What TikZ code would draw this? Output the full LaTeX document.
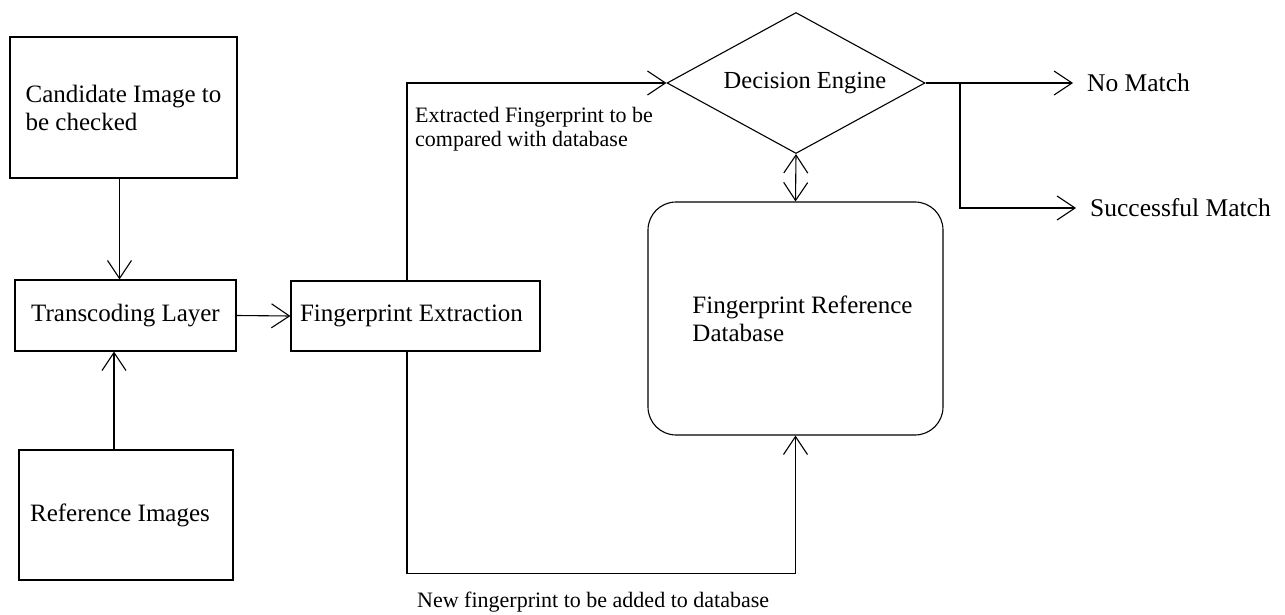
\documentclass[tikz,border=0pt]{standalone}
\usepackage{fontspec}
\setmainfont{Liberation Serif}
\usetikzlibrary{positioning,arrows.meta,shapes.geometric}

\begin{document}
\begin{tikzpicture}[
  x=1pt,
  y=-1pt,
  plainbox/.style={
    rectangle,
    draw=black,
    line width=1.1pt,
    inner sep=0pt,
    align=left,
    font=\fontsize{25}{28}\selectfont
  },
  decisionbox/.style={
    diamond,
    draw=black,
    line width=1.1pt,
    inner sep=0pt,
    aspect=1.83,
    minimum width=258pt,
    minimum height=141pt,
    font=\fontsize{24.5}{28}\selectfont
  },
  storebox/.style={
    plainbox,
    rounded corners=28pt
  },
  note/.style={
    inner sep=0pt,
    align=left,
    font=\fontsize{22}{24.5}\selectfont
  },
  outcome/.style={
    anchor=west,
    inner xsep=14pt,
    inner ysep=0pt,
    font=\fontsize{25.5}{28}\selectfont
  },
  flow/.style={
    line width=1.1pt,
    -{Straight Barb[length=18pt,width=24pt]}
  },
  bothflow/.style={
    line width=1.1pt,
    {Straight Barb[length=18pt,width=24pt]}-{Straight Barb[length=18pt,width=24pt]}
  }]
  \useasboundingbox (0,0) rectangle (1285,615);

  \node[plainbox, minimum width=227pt, minimum height=141pt] (cand) at (123.5,107.5) {Candidate Image to\\be checked};
  \node[plainbox, minimum width=221pt, minimum height=71pt] (trans) at (125.5,315.5) {Transcoding Layer};
  \node[plainbox, minimum width=214pt, minimum height=130pt] (refimg) at (126,515) {\hspace*{-12pt}Reference Images};
  \node[plainbox, minimum width=249pt, minimum height=70pt] (extract) at (415.5,316) {Fingerprint Extraction\hspace*{8pt}};
  \node[decisionbox] (decide) at (796,83) {\hspace*{18pt}Decision Engine};
  \node[storebox, minimum width=295pt, minimum height=233pt] (refdb) at (795.5,318.5) {\hspace*{14pt}Fingerprint Reference\\\hspace*{14pt}Database};

  \node[outcome] (nomatch) at (1073,83) {No Match};
  \node[outcome] (success) at (1076,208) {Successful Match};

  \node[note, anchor=west] (cmplabel) at (415,129) {Extracted Fingerprint to be\\compared with database};
  \node[note, anchor=west] (addlabel) at (417,602) {New fingerprint to be added to database};

  \coordinate (split) at (960,83);

  \draw[flow] ([xshift=-4pt]cand.south) -- ([xshift=-4pt]cand.south |- trans.north);
  \draw[flow] ([xshift=-12pt]refimg.north) -- ([xshift=-12pt]refimg.north |- trans.south);
  \draw[flow] (trans.east) -- (extract.west);
  \draw[flow] ([xshift=-8.5pt]extract.north) |- (decide.west);
  \draw[flow] ([xshift=-8.5pt]extract.south) -- ++(0,222) -| (refdb.south);
  \draw[bothflow] (decide.south) -- (refdb.north);
  \draw[flow] (decide.east) -- (nomatch.west);
  \draw[flow] (split) |- (success.west);
\end{tikzpicture}
\end{document}
